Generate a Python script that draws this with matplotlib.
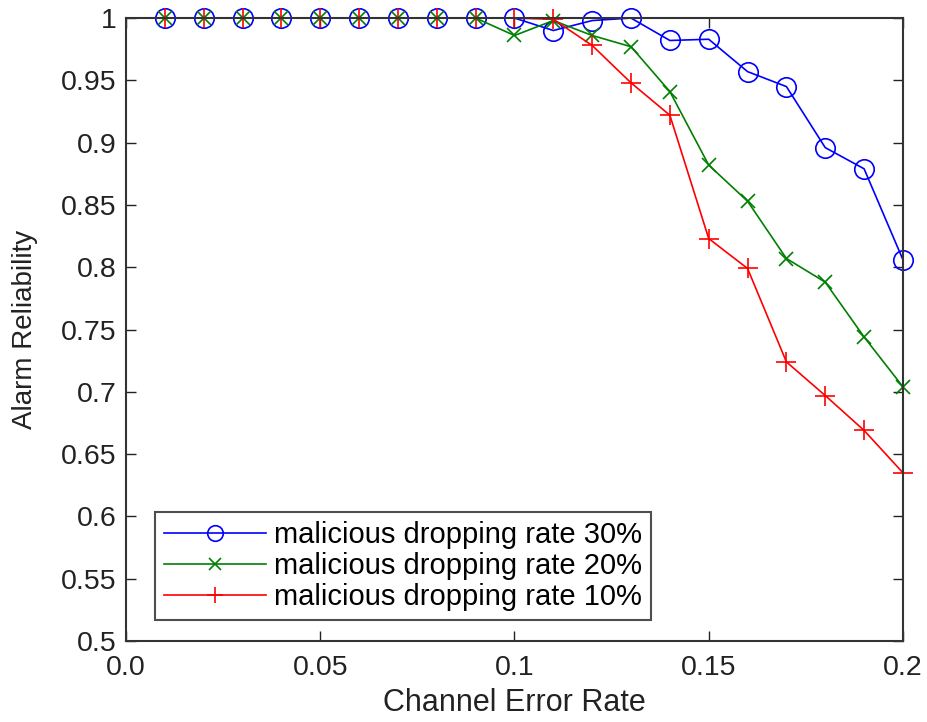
import matplotlib
matplotlib.use('Agg')
import matplotlib.pyplot as plt

plt.rcParams['font.family'] = ['Liberation Sans', 'DejaVu Sans']

error_rate = [0.01, 0.02, 0.03, 0.04, 0.05, 0.06, 0.07, 0.08, 0.09, 0.10,
              0.11, 0.12, 0.13, 0.14, 0.15, 0.16, 0.17, 0.18, 0.19, 0.20]

drop_30 = [1, 1, 1, 1, 1, 1, 1, 1, 1, 1,
           0.990, 0.998, 1.0, 0.982, 0.983, 0.957, 0.945, 0.896, 0.879, 0.806]
drop_20 = [1, 1, 1, 1, 1, 1, 1, 1, 1, 0.986,
           0.998, 0.986, 0.977, 0.941, 0.882, 0.853, 0.807, 0.788, 0.744, 0.704]
drop_10 = [1, 1, 1, 1, 1, 1, 1, 1, 1, 1,
           0.999, 0.978, 0.948, 0.922, 0.823, 0.799, 0.724, 0.697, 0.669, 0.635]

x_ticks = [0.0, 0.05, 0.1, 0.15, 0.2]
x_tick_labels = ['0.0', '0.05', '0.1', '0.15', '0.2']
y_ticks = [0.5, 0.55, 0.6, 0.65, 0.7, 0.75, 0.8, 0.85, 0.9, 0.95, 1.0]
y_tick_labels = ['0.5', '0.55', '0.6', '0.65', '0.7', '0.75', '0.8', '0.85', '0.9', '0.95', '1']

fig = plt.figure(figsize=(9.28, 7.22), dpi=100)
ax = fig.add_axes([0.1358, 0.1122, 0.8372, 0.8628])

ax.plot(error_rate, drop_30, color='#0000ff', lw=1.2, marker='o', ms=14,
        mfc='none', mew=1.2, label='malicious dropping rate 30%', clip_on=False)
ax.plot(error_rate, drop_20, color='#008000', lw=1.2, marker='x', ms=10,
        mew=1.2, label='malicious dropping rate 20%', clip_on=False)
ax.plot(error_rate, drop_10, color='#ff0000', lw=1.2, marker='+', ms=15,
        mew=1.2, label='malicious dropping rate 10%', clip_on=False)

ax.set_xlim(0, 0.2)
ax.set_ylim(0.5, 1.0)
ax.set_xticks(x_ticks)
ax.set_xticklabels(x_tick_labels)
ax.set_yticks(y_ticks)
ax.set_yticklabels(y_tick_labels)
ax.tick_params(direction='in', length=7, width=1, labelsize=20.5, colors='#222222',
               top=True, right=True)
ax.tick_params(axis='x', pad=10)
ax.tick_params(axis='y', pad=7)
for sp in ax.spines.values():
    sp.set_linewidth(1.5)
    sp.set_color('#333333')

ax.set_xlabel('Channel Error Rate', fontsize=22, color='#222222', labelpad=5)
ax.set_ylabel('Alarm Reliability', fontsize=20, color='#222222', labelpad=16)

leg = ax.legend(loc='lower left', bbox_to_anchor=(0.037, 0.034), fontsize=21,
                frameon=True, fancybox=False, handlelength=3.5, handletextpad=0.3,
                borderpad=0.3, labelspacing=0.1, borderaxespad=0, markerscale=0.8)
leg.get_frame().set_edgecolor('#222222')
leg.get_frame().set_linewidth(1.5)

fig.savefig('out.png', dpi=100)
